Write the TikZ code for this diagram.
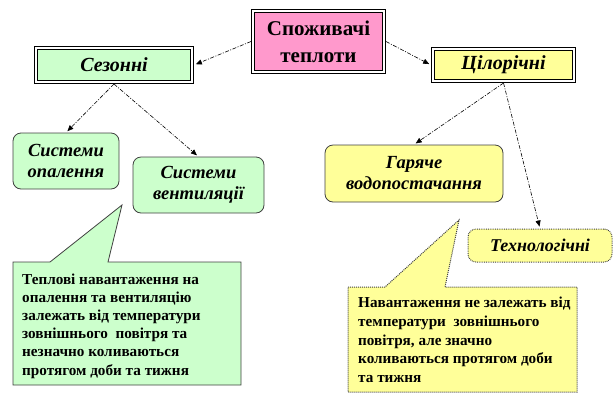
\documentclass[tikz,border=0pt]{standalone}
\usepackage{fontspec}
\setmainfont{Liberation Serif}
\usetikzlibrary{arrows.meta,calc}
\definecolor{fillPink}{HTML}{FF99CC}
\definecolor{fillGreen}{HTML}{CCFFCC}
\definecolor{fillYellow}{HTML}{FFFF99}

\begin{document}
\begin{tikzpicture}[x=1pt,y=-1pt,
    frame/.style={draw,line width=2.5pt,inner sep=0pt,align=center,font=\rmfamily\fontsize{20}{22}\selectfont\bfseries\itshape},
    rbox/.style={draw=black!75,line width=0.8pt,rounded corners=8pt,inner sep=0pt,align=center,font=\rmfamily\fontsize{18.5}{21}\selectfont\bfseries\itshape},
    link/.style={-{Triangle[width=5pt,length=6pt]},line width=0.6pt,dash pattern=on 4pt off 1.5pt on 1pt off 1.5pt,shorten >=2pt},
    note/.style={align=left,anchor=west,inner sep=0pt,font=\rmfamily\fontsize{15.2}{18.2}\selectfont\bfseries}]
    \useasboundingbox (0,0) rectangle (615,408);
    % top level
    \node[frame,fill=fillPink,minimum width=132.5,minimum height=62.5,font=\rmfamily\fontsize{21}{27}\selectfont\bfseries] (spozh) at (318.5,41.5) {Споживачі\\теплоти};
    \node[frame,fill=fillGreen,minimum width=157.5,minimum height=35.5] (sez) at (114,65) {Сезонні};
    \node[frame,fill=fillYellow,minimum width=142.5,minimum height=33.5] (cil) at (503.5,65) {Цілорічні};
    \foreach \n in {spozh,sez,cil} {
      \draw[white,line width=1.75pt] ($(\n.north west)+(2.125,2.125)$) rectangle ($(\n.south east)+(-2.125,-2.125)$);
      \draw[line width=1pt] ($(\n.north west)+(3.5,3.5)$) rectangle ($(\n.south east)+(-3.5,-3.5)$);
    }
    % second level
    \node[rbox,fill=fillGreen,minimum width=106,minimum height=56] (opal) at (66,161) {Системи\\опалення};
    \node[rbox,fill=fillGreen,minimum width=131,minimum height=56] (vent) at (198.5,185) {Системи\\вентиляції};
    \node[rbox,fill=fillYellow,minimum width=178,minimum height=57] (gar) at (414,173.5) {Гаряче\\водопостачання};
    \node[rbox,fill=fillYellow,densely dotted,line width=1pt,minimum width=144,minimum height=33,font=\rmfamily\fontsize{18}{20}\selectfont\bfseries\itshape] (tekh) at (540,245.5) {Технологічні};
    % arrows
    \draw[link] (spozh.west) -- (sez.east);
    \draw[link] (spozh.east) -- (cil.west);
    \draw[link] (sez.south) -- (opal.north);
    \draw[link] (sez.south) -- (vent.north);
    \draw[link] (cil.south) -- (gar.north);
    \draw[link] (cil.south) -- (tekh.north);
    % callouts
    \draw[fill=fillGreen,draw=black!75,line width=0.8pt] (13,262) -- (50,262) -- (122,205) -- (108,262) -- (241,262) -- (241,385) -- (13,385) -- cycle;
    \node[note] (noteS) at (22,326) {Теплові навантаження на\\опалення та вентиляцію\\залежать від температури\\зовнішнього\ \ повітря та\\незначно коливаються\\протягом доби та тижня};
    \draw[fill=fillYellow,draw=black!75,densely dotted,line width=1pt] (348,287) -- (385,287) -- (459,220) -- (445,287) -- (577,287) -- (577,392) -- (348,392) -- cycle;
    \node[note,font=\rmfamily\fontsize{15.2}{18.7}\selectfont\bfseries] (noteY) at (358,340) {Навантаження не залежать від\\температури\ \ зовнішнього\\повітря, але значно\\коливаються протягом доби\\та тижня};
\end{tikzpicture}
\end{document}
